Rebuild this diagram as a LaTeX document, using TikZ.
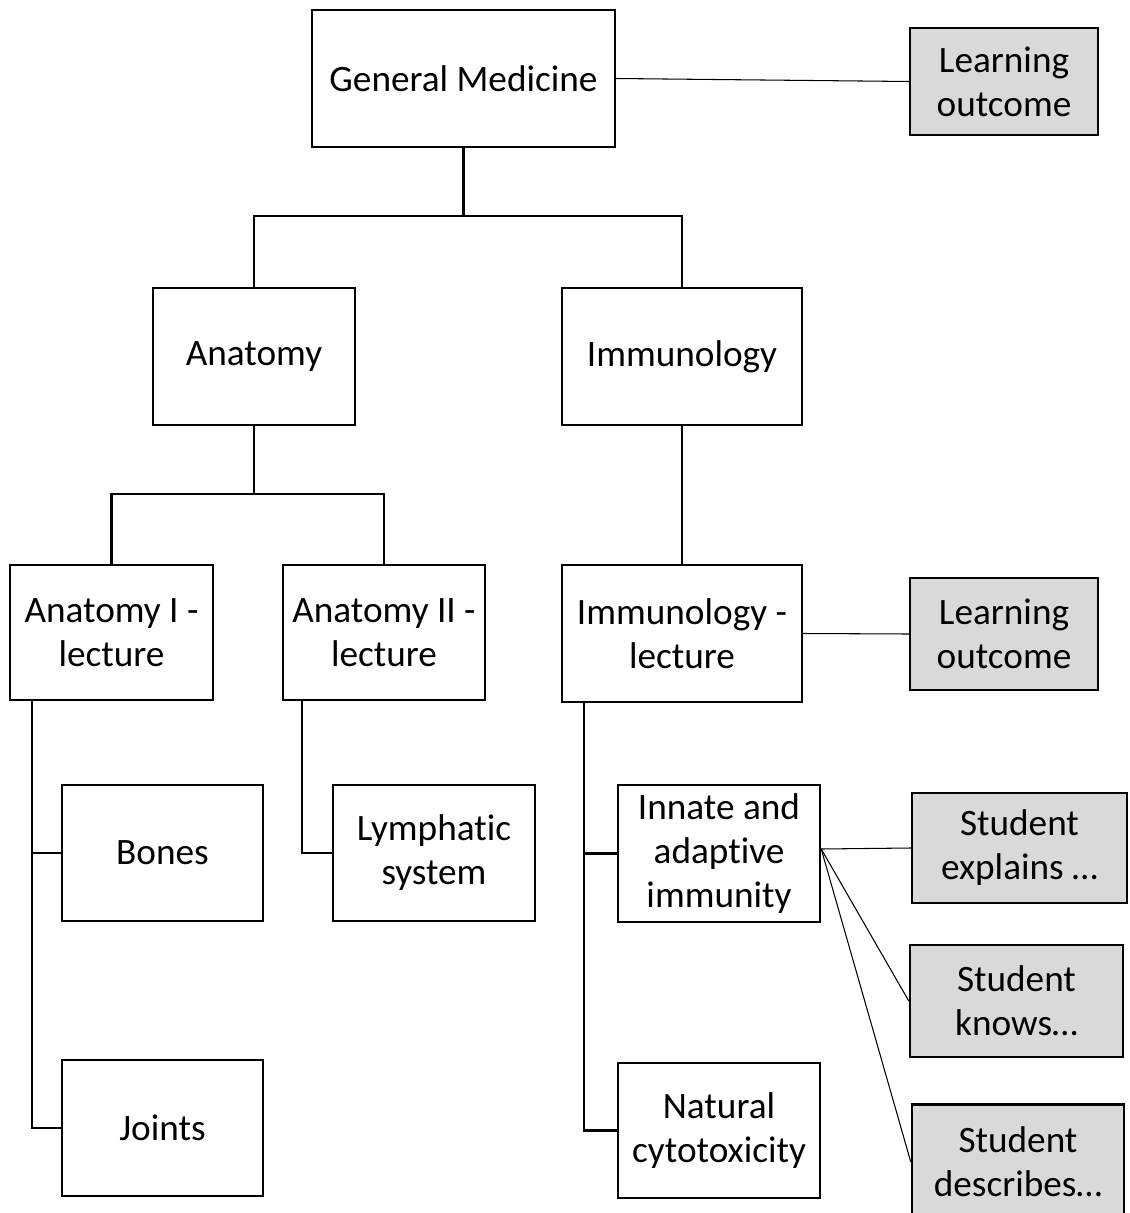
\documentclass[tikz,border=0pt]{standalone}
\usepackage{fontspec}
\setmainfont[Ligatures=NoCommon]{Carlito}
\usepackage{xcolor}
\definecolor{outcomegray}{HTML}{D9D9D9}

\tikzset{
  box/.style={draw, line width=1.4pt, align=center, inner sep=0pt,
    font=\fontsize{21.2}{25}\selectfont},
  outcome/.style={box, fill=outcomegray},
  tree/.style={line width=1.4pt},
  link/.style={line width=0.6pt}
}

\begin{document}
\begin{tikzpicture}[x=0.02cm, y=-0.02cm]
    \useasboundingbox (0,0) rectangle (1129,1213);
    % top level
    \node[box, minimum width=6.06cm, minimum height=2.74cm] (gm) at (463.5,78.5)
    {General Medicine};
    \node[outcome, minimum width=3.76cm, minimum height=2.14cm] (lo1) at (1004,81.5)
    {Learning\\outcome};
    \draw[link] (gm.east) -- (lo1.west);
    % subjects
    \node[box, minimum width=4.04cm, minimum height=2.74cm] (anat) at (254,356.5)
    {Anatomy};
    \node[box, minimum width=4.8cm, minimum height=2.74cm] (immu) at (682,356.5)
    {Immunology};
    \draw[tree] (gm.south) -- ++(0,68) -| (anat.north);
    \draw[tree] (gm.south) ++(0,68) -| (immu.north);
    % lectures
    \node[box, minimum width=4.06cm, minimum height=2.7cm] (anai) at (111.5,632.5)
    {Anatomy I -\\lecture};
    \node[box, minimum width=4.04cm, minimum height=2.7cm] (anaii) at (384,632.5)
    {Anatomy II -\\lecture};
    \node[box, minimum width=4.8cm, minimum height=2.74cm] (imml) at (682,633.5)
    {Immunology -\\lecture};
    \node[outcome, minimum width=3.76cm, minimum height=2.24cm] (lo2) at (1004,634)
    {Learning\\outcome};
    \draw[tree] (anat.south) -- ++(0,68) -| (anai.north);
    \draw[tree] (anat.south) ++(0,68) -| (anaii.north);
    \draw[tree] (immu) -- (imml);
    \draw[link] (imml.east) -- (lo2.west);
    % topics
    \node[box, minimum width=4.02cm, minimum height=2.72cm] (bones) at (162.5,853)
    {Bones};
    \node[box, minimum width=4.02cm, minimum height=2.72cm] (joints) at (162.5,1128)
    {Joints};
    \node[box, minimum width=4.04cm, minimum height=2.72cm] (lymph) at (434,853)
    {Lymphatic\\system};
    \node[box, minimum width=4.04cm, minimum height=2.74cm] (innate) at (719,853.5)
    {Innate and\\adaptive\\immunity};
    \node[box, minimum width=4.04cm, minimum height=2.7cm] (natural) at (719,1130.5)
    {Natural\\cytotoxicity};
    \draw[tree] ([xshift=0.46cm]anai.south west) |- (bones.west);
    \draw[tree] ([xshift=0.46cm]anai.south west) |- (joints.west);
    \draw[tree] ([xshift=0.4cm]anaii.south west) |- (lymph.west);
    \draw[tree] ([xshift=0.46cm]imml.south west) |- (innate.west);
    \draw[tree] ([xshift=0.46cm]imml.south west) |- (natural.west);
    % student outcomes
    \node[outcome, minimum width=4.3cm, minimum height=2.2cm] (explains) at (1019.5,848)
    {Student\\explains \dots};
    \node[outcome, minimum width=4.26cm, minimum height=2.24cm] (knows) at (1016.5,1001)
    {Student\\knows\dots};
    \node[outcome, minimum width=4.24cm, minimum height=2.3cm] (describes) at (1018,1162)
    {Student\\describes\dots};
    \coordinate (fan) at ([yshift=0.09cm]innate.east);
    \draw[link] (fan) -- (explains.west);
    \draw[link] (fan) -- (knows.west);
    \draw[link] (fan) -- (describes.west);
\end{tikzpicture}
\end{document}
